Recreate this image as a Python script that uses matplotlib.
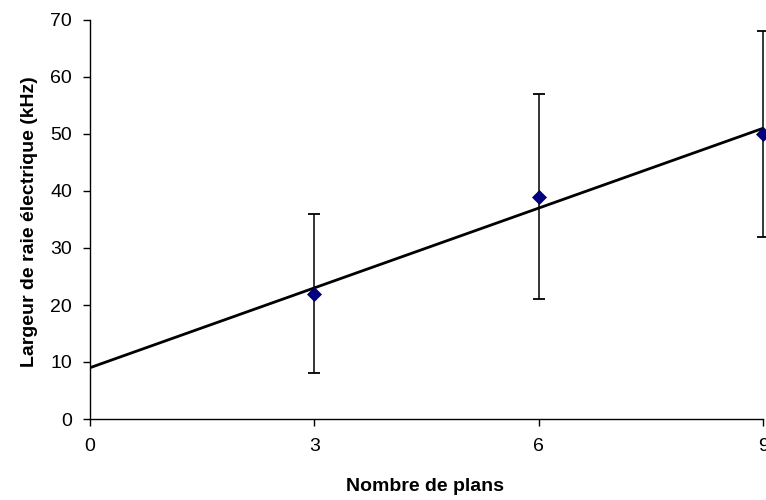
import matplotlib
matplotlib.use("Agg")
import matplotlib.pyplot as plt
import numpy as np

# data
plans = [3, 6, 9]
largeur = [22, 39, 50]
erreur = [14, 18, 18]
x_ticks = [0, 3, 6, 9]
y_ticks = [0, 10, 20, 30, 40, 50, 60, 70]

plt.rcParams['font.family'] = ['Liberation Sans', 'DejaVu Sans']

fig = plt.figure(figsize=(7.66, 5.0), dpi=100)
ax = fig.add_axes([0.1175, 0.162, 0.8786, 0.798])

# linear trend line over the full x range
pente, origine = np.polyfit(plans, largeur, 1)
xs = np.array([0, 9])
ax.plot(xs, pente * xs + origine, color='black', linewidth=2.0, zorder=2)

eb = ax.errorbar(plans, largeur, yerr=erreur, fmt='none', ecolor='black',
                 elinewidth=1.1, capsize=4.2, capthick=1.3, zorder=3)
for art in eb.get_children():
    art.set_clip_on(False)
ax.plot(plans, largeur, linestyle='none', marker='D', markersize=7,
        color='#000080', markeredgecolor='#00005a', markeredgewidth=0.5,
        zorder=4, clip_on=False)

ax.set_xlim(0, 9)
ax.set_ylim(0, 70)
ax.set_xticks(x_ticks)
ax.set_yticks(y_ticks)
ax.tick_params(direction='out', length=5, width=1, labelsize=14)
ax.tick_params(axis='x', pad=9)
ax.tick_params(axis='y', pad=8)

for s in ['top', 'right']:
    ax.spines[s].set_visible(False)
for s in ['left', 'bottom']:
    ax.spines[s].set_linewidth(1.0)

ax.set_xlabel('Nombre de plans', fontsize=14, fontweight='bold')
ax.set_ylabel('Largeur de raie électrique (kHz)', fontsize=14, fontweight='bold')
ax.xaxis.set_label_coords(0.4985, -0.147)
ax.yaxis.set_label_coords(-0.077, 0.495)

fig.savefig('out.png', dpi=100)
